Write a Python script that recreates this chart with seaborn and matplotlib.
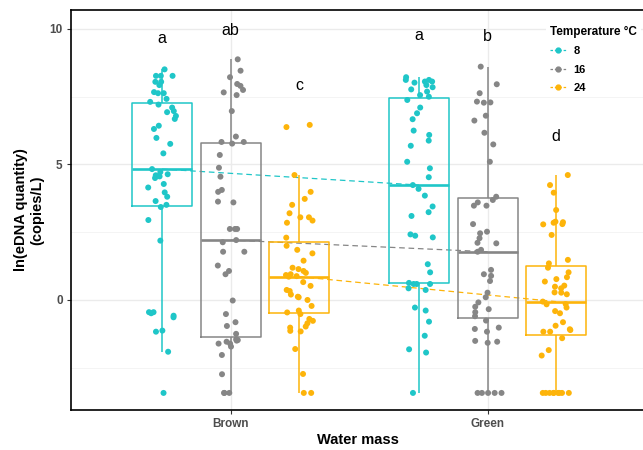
import numpy as np
import pandas as pd
import matplotlib
matplotlib.use("Agg")
import matplotlib.pyplot as plt
import seaborn as sns
from matplotlib.lines import Line2D

# ---------------- data ----------------
water_masses = ["Brown", "Green"]
temperatures = ["8", "16", "24"]
palette = {"8": "#1FC6C8", "16": "#868686", "24": "#FDB40A"}

brown_8 = [-3.43, -1.91, -1.17, -1.13, -0.64, -0.58, -0.49, -0.45, -0.45, 2.19, 2.95, 3.43,
           3.51, 3.65, 3.81, 3.97, 4.15, 4.28, 4.50, 4.56, 4.60, 4.64, 4.72,
           4.83,
           5.41, 5.76, 5.98, 6.31, 6.43, 6.68, 6.79, 6.93, 6.97, 7.10, 7.21,
           7.31, 7.42, 7.63, 7.63, 7.67, 7.93, 8.05, 8.05, 8.27, 8.27, 8.27, 8.51]
brown_16 = [-3.43, -3.43, -3.43, -2.74, -2.03, -1.72, -1.61, -1.61, -1.54, -1.50, -1.48, -1.45,
            -1.25, -0.96, -0.82, -0.52, -0.02, 0.95, 1.07, 1.27, 1.78, 1.78, 2.13,
            2.21,
            2.62, 2.62, 2.62, 3.60, 3.63, 3.99, 4.06, 4.55, 4.88, 5.35, 5.77,
            5.83, 5.83, 6.03, 6.97, 7.56, 7.66, 7.75, 7.90, 7.97, 8.22, 8.46, 8.88]
brown_24 = [-3.43, -3.43, -2.73, -1.81, -1.16, -1.14, -1.02, -0.98, -0.86, -0.77, -0.70, -0.52,
            -0.46, -0.39, -0.22, 0.00, 0.10, 0.12, 0.20, 0.33, 0.37, 0.52, 0.66,
            0.86,
            0.88, 0.92, 0.95, 1.00, 1.07, 1.14, 1.19, 1.45, 1.72, 1.85, 2.00,
            2.30, 2.85, 2.93, 3.05, 3.05, 3.20, 3.51, 3.73, 3.99, 4.61, 6.38, 6.46]
green_8 = [-3.43, -1.94, -1.82, -1.32, -0.80, -0.39, -0.28, 0.37, 0.43, 0.59, 0.59, 0.59,
           0.63, 1.02, 1.32, 2.31, 2.37, 2.42, 3.10, 3.24, 3.45, 3.85, 4.10,
           4.24,
           4.53, 4.86, 5.10, 5.69, 5.88, 6.09, 6.25, 6.67, 6.89, 7.10, 7.38,
           7.50, 7.56, 7.69, 7.77, 7.85, 7.93, 8.02, 8.06, 8.06, 8.12, 8.12, 8.22]
green_16 = [-3.43, -3.43, -3.43, -3.43, -3.43, -1.58, -1.54, -1.51, -1.17, -1.07, -1.02, -0.76,
            -0.60, -0.45, -0.34, -0.25, -0.09, 0.10, 0.27, 0.70, 0.89, 0.95, 1.11,
            1.78,
            1.85, 2.09, 2.11, 2.28, 2.46, 2.52, 2.80, 3.48, 3.48, 3.60, 3.69,
            3.81, 5.10, 5.74, 6.17, 6.62, 6.80, 7.28, 7.29, 7.32, 7.63, 7.96, 8.61]
green_24 = [-3.43, -3.43, -3.43, -3.43, -3.43, -3.43, -3.43, -3.43, -3.43, -2.05, -1.85, -1.41,
            -1.17, -1.17, -1.11, -1.08, -0.95, -0.82, -0.49, -0.41, -0.28, -0.16, -0.15,
            -0.06,
            0.21, 0.27, 0.28, 0.43, 0.49, 0.53, 0.68, 0.77, 0.84, 1.02, 1.19,
            1.35, 1.48, 2.40, 2.79, 2.80, 2.85, 2.87, 2.89, 3.32, 3.96, 4.24, 4.61]

sig_letters = ["a", "ab", "c", "a", "b", "d"]
letter_heights = [9.47, 9.78, 7.75, 9.59, 9.56, 5.88]

groups = {("Brown", "8"): brown_8, ("Brown", "16"): brown_16, ("Brown", "24"): brown_24,
          ("Green", "8"): green_8, ("Green", "16"): green_16, ("Green", "24"): green_24}
rows = []
for (wm, t), vals in groups.items():
    for v in vals:
        rows.append({"mass": wm, "temp": t, "value": v})
df = pd.DataFrame(rows)

# ---------------- plot ----------------
np.random.seed(3)
plt.rcParams["font.family"] = ["Liberation Sans", "DejaVu Sans"]

fig = plt.figure(figsize=(6.43, 4.5), dpi=100)
ax = fig.add_axes([71 / 643, 40 / 450, 574 / 643, 400 / 450])

sns.pointplot(data=df, x="mass", y="value", hue="temp", order=water_masses,
              hue_order=temperatures, palette=palette, estimator=np.median,
              errorbar=None, dodge=0.5333, markers="", linestyles="--",
              linewidth=0.9, legend=False, ax=ax)
for ln in ax.lines:
    ln.set_dashes([4.5, 3])
    ln.set_zorder(1.5)

sns.boxplot(data=df, x="mass", y="value", hue="temp", order=water_masses,
            hue_order=temperatures, palette=palette, fill=False, width=0.8,
            gap=0.125, showfliers=False, showcaps=False, whis=1.5, linewidth=1.1,
            medianprops=dict(linewidth=1.9), legend=False, ax=ax)

sns.stripplot(data=df, x="mass", y="value", hue="temp", order=water_masses,
              hue_order=temperatures, palette=palette, dodge=True, jitter=0.17,
              size=4.3, linewidth=0, legend=False, ax=ax, zorder=3)

offsets = [-0.2667, 0.0, 0.2667]
k = 0
for i, wm in enumerate(water_masses):
    for j, t in enumerate(temperatures):
        ax.text(i + offsets[j], letter_heights[k], sig_letters[k], ha="center",
                va="baseline", fontsize=11.5, color="black")
        k += 1

ax.set_xlim(-0.621, 1.6125)
ax.set_ylim(-4.06, 10.70)
ax.set_yticks([0, 5, 10])
ax.set_yticks([-2.5, 2.5, 7.5], minor=True)
ax.set_axisbelow(True)
ax.grid(which="major", color="#EBEBEB", linewidth=1.0)
ax.grid(which="minor", axis="y", color="#F4F4F4", linewidth=0.7)
ax.tick_params(which="minor", length=0)
ax.tick_params(which="major", length=3, width=0.8, color="#333333",
               labelcolor="#4D4D4D", labelsize=8.5, pad=3)
for lab in ax.get_xticklabels() + ax.get_yticklabels():
    lab.set_fontweight("bold")
for s in ax.spines.values():
    s.set_color("black")
    s.set_linewidth(1.2)
ax.spines["right"].set_visible(False)

ax.set_xlabel("Water mass", fontsize=10.5, fontweight="bold", labelpad=2)
ax.set_ylabel("ln(eDNA quantity)\n(copies/L)", fontsize=10.5, fontweight="bold")
ax.yaxis.set_label_coords(-0.047, 0.5)

handles = [Line2D([0], [0], color=palette[t], linestyle="--", dashes=(2, 1.5),
                  linewidth=0.9, marker="o", markersize=3.5) for t in temperatures]
leg = ax.legend(handles, temperatures, title="Temperature °C", loc="upper left",
                bbox_to_anchor=(0.817, 0.985), frameon=True, facecolor="white",
                edgecolor="none", framealpha=1, prop=dict(weight="bold", size=8),
                title_fontproperties=dict(weight="bold", size=8.5),
                handlelength=1.5, handletextpad=0.6, labelspacing=0.75,
                alignment="left", borderpad=0.4)

fig.savefig("out.png", dpi=100)
